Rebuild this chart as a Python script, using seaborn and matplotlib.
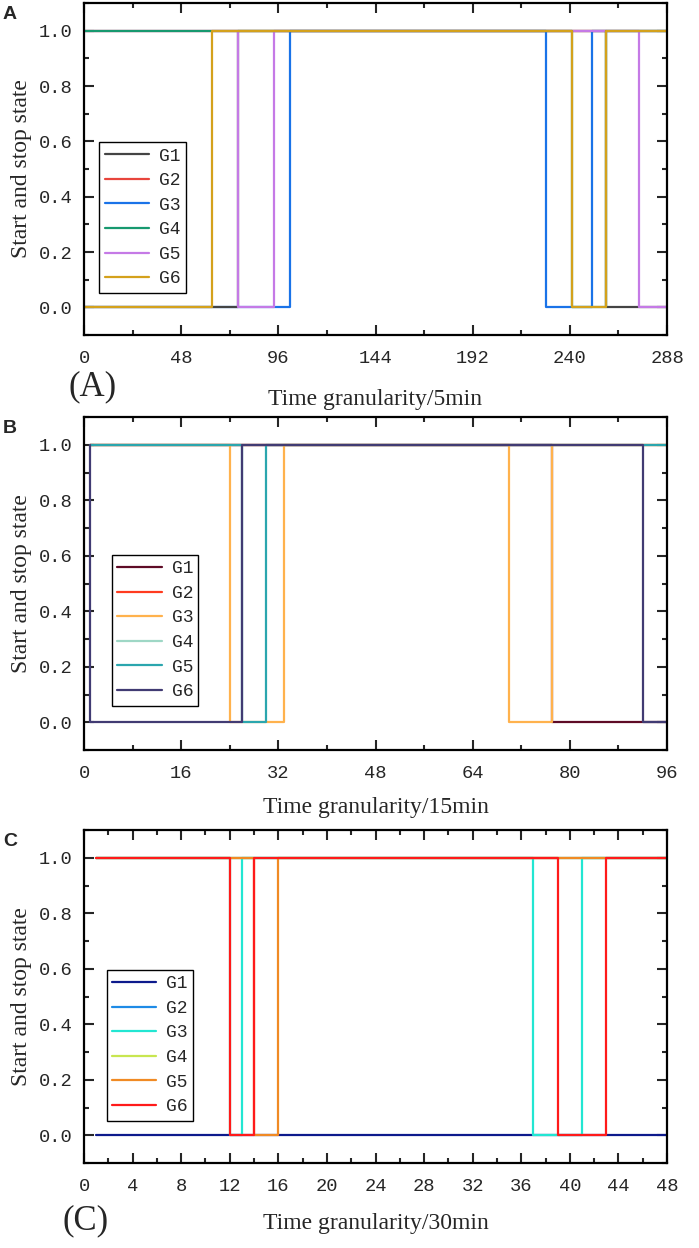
import numpy as np
import pandas as pd
import matplotlib
matplotlib.use('Agg')
import matplotlib.pyplot as plt
import seaborn as sns

sns.set_style('ticks')
plt.rcParams['font.family'] = ['Liberation Serif', 'DejaVu Serif']

gens = ['G1', 'G2', 'G3', 'G4', 'G5', 'G6']
ytick_vals = [0.0, 0.2, 0.4, 0.6, 0.8, 1.0]
ytick_labels = ['0.0', '0.2', '0.4', '0.6', '0.8', '1.0']

# (A) 5 min granularity: switching times and on/off state after each time
a_g1_t = [0, 76, 258, 288];          a_g1_s = [0, 1, 0, 0]
a_g2_t = [0, 288];                   a_g2_s = [1, 1]
a_g3_t = [0, 102, 228, 251, 288];    a_g3_s = [0, 1, 0, 1, 1]
a_g4_t = [0, 241, 258, 288];         a_g4_s = [1, 0, 1, 1]
a_g5_t = [0, 76, 94, 274, 288];      a_g5_s = [1, 0, 1, 0, 0]
a_g6_t = [0, 63, 241, 258, 288];     a_g6_s = [0, 1, 0, 1, 1]
a_xticks = [0, 48, 96, 144, 192, 240, 288]

# (B) 15 min granularity
b_g1_t = [1, 77, 96];                b_g1_s = [1, 0, 0]
b_g2_t = [1, 96];                    b_g2_s = [1, 1]
b_g3_t = [1, 24, 33, 70, 77, 96];    b_g3_s = [1, 0, 1, 0, 1, 1]
b_g4_t = [1, 96];                    b_g4_s = [1, 1]
b_g5_t = [1, 26, 30, 96];            b_g5_s = [1, 0, 1, 1]
b_g6_t = [1, 1, 26, 92, 96];         b_g6_s = [1, 0, 1, 0, 0]
b_xticks = [0, 16, 32, 48, 64, 80, 96]

# (C) 30 min granularity
c_g1_t = [1, 48];                    c_g1_s = [0, 0]
c_g2_t = [1, 48];                    c_g2_s = [1, 1]
c_g3_t = [1, 12, 13, 37, 41, 48];    c_g3_s = [1, 0, 1, 0, 1, 1]
c_g4_t = [1, 48];                    c_g4_s = [1, 1]
c_g5_t = [1, 14, 16, 48];            c_g5_s = [1, 0, 1, 1]
c_g6_t = [1, 12, 14, 39, 43, 48];    c_g6_s = [1, 0, 1, 0, 1, 1]
c_xticks = list(range(0, 49, 4))

a_colors = ['#444444', '#e8453c', '#1a73e8', '#17996f', '#c57ae6', '#d4a11c']
b_colors = ['#5e0b26', '#ff3b1f', '#ffb24d', '#9ed7c5', '#2ba6ae', '#413b73']
c_colors = ['#0d1a8c', '#1e8be6', '#22e6d2', '#c8e650', '#f08a24', '#ff1a1a']
# drawing order (higher = on top)
a_z = [2, 0, 1, 4, 3, 5]
b_z = [2, 0, 3, 1, 4, 5]
c_z = [2, 0, 3, 1, 4, 5]

panels = [
    dict(times=[a_g1_t, a_g2_t, a_g3_t, a_g4_t, a_g5_t, a_g6_t],
         states=[a_g1_s, a_g2_s, a_g3_s, a_g4_s, a_g5_s, a_g6_s],
         colors=a_colors, z=a_z, xticks=a_xticks, xmax=288, minor=24,
         xlabel='Time granularity/5min', xly=-0.162, letter='A', tag='(A)',
         rect=[84, 3, 667, 335], leg=(0.026, 0.581), tagpos=(0.014, -0.155)),
    dict(times=[b_g1_t, b_g2_t, b_g3_t, b_g4_t, b_g5_t, b_g6_t],
         states=[b_g1_s, b_g2_s, b_g3_s, b_g4_s, b_g5_s, b_g6_s],
         colors=b_colors, z=b_z, xticks=b_xticks, xmax=96, minor=8,
         xlabel='Time granularity/15min', xly=-0.142, letter='B', tag=None,
         rect=[84, 417, 667, 750], leg=(0.048, 0.586), tagpos=None),
    dict(times=[c_g1_t, c_g2_t, c_g3_t, c_g4_t, c_g5_t, c_g6_t],
         states=[c_g1_s, c_g2_s, c_g3_s, c_g4_s, c_g5_s, c_g6_s],
         colors=c_colors, z=c_z, xticks=c_xticks, xmax=48, minor=2,
         xlabel='Time granularity/30min', xly=-0.15, letter='C', tag='(C)',
         rect=[84, 830, 667, 1163], leg=(0.039, 0.58), tagpos=(0.003, -0.175)),
]

W, H = 699, 1248
fig = plt.figure(figsize=(W / 100, H / 100), dpi=100)

for p in panels:
    x0, y0, x1, y1 = p['rect']
    ax = fig.add_axes([x0 / W, 1 - y1 / H, (x1 - x0) / W, (y1 - y0) / H])
    for i, g in enumerate(gens):
        df = pd.DataFrame({'t': p['times'][i], 's': p['states'][i]})
        sns.lineplot(data=df, x='t', y='s', ax=ax, color=p['colors'][i],
                     linewidth=1.6, drawstyle='steps-post', estimator=None,
                     sort=False, label=g, zorder=2 + 0.05 * p['z'][i])
    ax.set_xlim(0, p['xmax'])
    ax.set_ylim(-0.1, 1.1)
    ax.set_xticks(p['xticks'])
    ax.set_xticklabels([str(v) for v in p['xticks']], family='Liberation Mono', size=13.5)
    ax.set_xticks(np.arange(0, p['xmax'] + 1, p['minor']), minor=True)
    ax.set_yticks(ytick_vals)
    ax.set_yticklabels(ytick_labels, family='Liberation Mono', size=13.5)
    ax.set_yticks(np.arange(-0.1, 1.11, 0.1), minor=True)
    ax.tick_params(which='both', direction='in', top=True, right=True, width=1.5)
    ax.tick_params(which='major', length=7, pad=8)
    ax.tick_params(which='minor', length=3.5)
    ax.tick_params(axis='x', which='major', pad=11)
    for sp in ax.spines.values():
        sp.set_linewidth(1.6)
        sp.set_color('black')
    ax.set_xlabel(p['xlabel'], fontsize=17)
    ax.xaxis.set_label_coords(0.5, p['xly'])
    ax.set_ylabel('Start and stop state', fontsize=17)
    ax.yaxis.set_label_coords(-0.09, 0.5)
    leg = ax.legend(loc='upper left', bbox_to_anchor=p['leg'], borderaxespad=0,
                    prop={'family': 'Liberation Mono', 'size': 13},
                    handlelength=2.45, handletextpad=0.55, labelspacing=0.42,
                    borderpad=0.3, fancybox=False, framealpha=1, edgecolor='black')
    leg.get_frame().set_linewidth(1.0)
    if p['tag']:
        ax.text(p['tagpos'][0], p['tagpos'][1], p['tag'], transform=ax.transAxes,
                ha='center', va='center', fontsize=25)
    fig.text(3 / W, 1 - (y0 + 3) / H, p['letter'], family='Liberation Sans',
             weight='bold', fontsize=14, va='top', ha='left')

fig.savefig('out.png', dpi=100)
